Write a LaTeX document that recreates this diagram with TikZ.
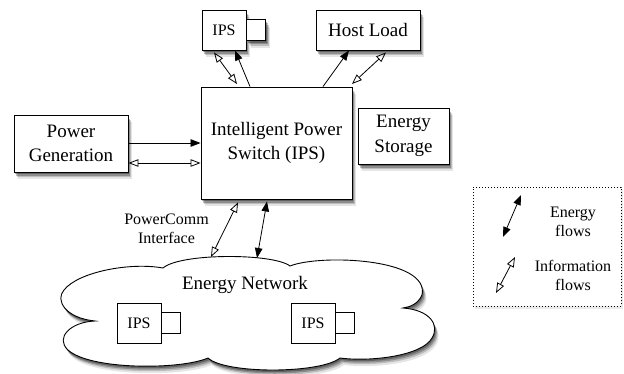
\documentclass[tikz,border=0pt]{standalone}
\usepackage{fontspec}
\setmainfont{Liberation Serif}
\usetikzlibrary{arrows.meta,shadows}
\begin{document}
\begin{tikzpicture}[x=1pt,y=-1pt,
  big/.style={font=\fontsize{19}{24.5}\selectfont},
  small/.style={font=\fontsize{16}{19}\selectfont},
  shad/.style={drop shadow={shadow xshift=4pt,shadow yshift=-7pt,opacity=.10,fill=black},
               drop shadow={shadow xshift=3pt,shadow yshift=-5pt,opacity=.18,fill=black},
               drop shadow={shadow xshift=2pt,shadow yshift=-3.5pt,opacity=.25,fill=black},
               drop shadow={shadow xshift=1pt,shadow yshift=-2pt,opacity=.3,fill=black}},
  box/.style={draw, line width=0.9pt, fill=white, inner sep=0pt, align=center},
  ipsbox/.style={box, small, minimum width=44pt, minimum height=40pt},
  plug/.style={box, minimum width=19pt, minimum height=21pt},
  tipS/.tip={Triangle[length=10pt,width=7.5pt]},
  tipO/.tip={Triangle[open,length=10pt,width=7.5pt]},
  en/.style={line width=0.8pt, -tipS},
  en2/.style={line width=0.8pt, tipS-tipS},
  inf/.style={line width=0.8pt, tipO-tipO},
]
\useasboundingbox (0,0) rectangle (624,373);

% cloud
\draw[line width=0.9pt, fill=white, shad]
  (163,268) .. controls (180,253) and (273,253) .. (290,266)
  .. controls (320,254) and (430,258) .. (422,295)
  .. controls (418,304) and (410,307) .. (403,308)
  .. controls (430,310) and (440,325) .. (432,338)
  .. controls (422,356) and (370,362) .. (340,358)
  .. controls (320,374) and (225,374) .. (208,358)
  .. controls (180,370) and (90,370) .. (68,350)
  .. controls (55,338) and (70,322) .. (95,321)
  .. controls (65,318) and (55,300) .. (64,290)
  .. controls (78,272) and (130,262) .. cycle;
\coordinate (cloudA) at (211,257);
\coordinate (cloudB) at (257,258);
\node[big] (net) at (245,285) {Energy Network};
\node[ipsbox] (ipsL) at (139,323) {IPS};
\node[plug, anchor=west] (ipsLp) at (ipsL.east) {};
\node[ipsbox] (ipsR) at (313,323) {IPS};
\node[plug, anchor=west] (ipsRp) at (ipsR.east) {};

% boxes
\node[ipsbox, shad] (ipsT) at (224,30) {IPS};
\node[plug, shad, anchor=west] (ipsTp) at (ipsT.east) {};
\node[box, big, shad, minimum width=104pt, minimum height=40pt] (host) at (368,30) {Host Load};
\node[box, big, shad, minimum width=151pt, minimum height=112pt] (main) at (276.5,143) {Intelligent Power\\Switch (IPS)};
\node[box, big, shad, minimum width=91pt, minimum height=56pt] (store) at (403.5,136) {Energy\\Storage};
\node[box, big, shad, minimum width=114pt, minimum height=57pt] (gen) at (71,143.5) {Power\\Generation};

% connectors
\draw[en] (gen.east |- 0,143) -- (main.west |- 0,143);
\draw[inf] (gen.east |- 0,163) -- (main.west |- 0,163);
\draw[inf] (214,0 |- ipsT.south) ++(0,2) -- (237,84);
\draw[en] (250,0 |- main.north) -- (235,0 |- ipsT.south);
\draw[en] (323,0 |- main.north) -- (349,0 |- host.south);
\draw[inf] (386,0 |- host.south) ++(0,2) -- (352,84);
\draw[inf] (238,0 |- main.south) ++(0,3) -- (cloudA);
\draw[en2] (267,0 |- main.south) ++(0,2) -- (cloudB);
\node[small, align=center] (pc) at (166.5,228.5) {PowerComm\\Interface};

% legend
\node[draw, dotted, line width=1pt, fill=white,
      drop shadow={shadow xshift=2pt,shadow yshift=-3pt,opacity=.08,fill=black},
      minimum width=148pt, minimum height=119pt, inner sep=0pt] (leg) at (547,246.5) {};
\coordinate (e1) at (521,195);
\coordinate (e2) at (503,237);
\coordinate (i1) at (515,257);
\coordinate (i2) at (496,293);
\draw[en2] (e1) -- (e2);
\draw[inf] (i1) -- (i2);
\node[small, align=center] (legE) at (573,222) {Energy\\flows};
\node[small, align=center] (legI) at (573,275.5) {Information\\flows};
\end{tikzpicture}
\end{document}
